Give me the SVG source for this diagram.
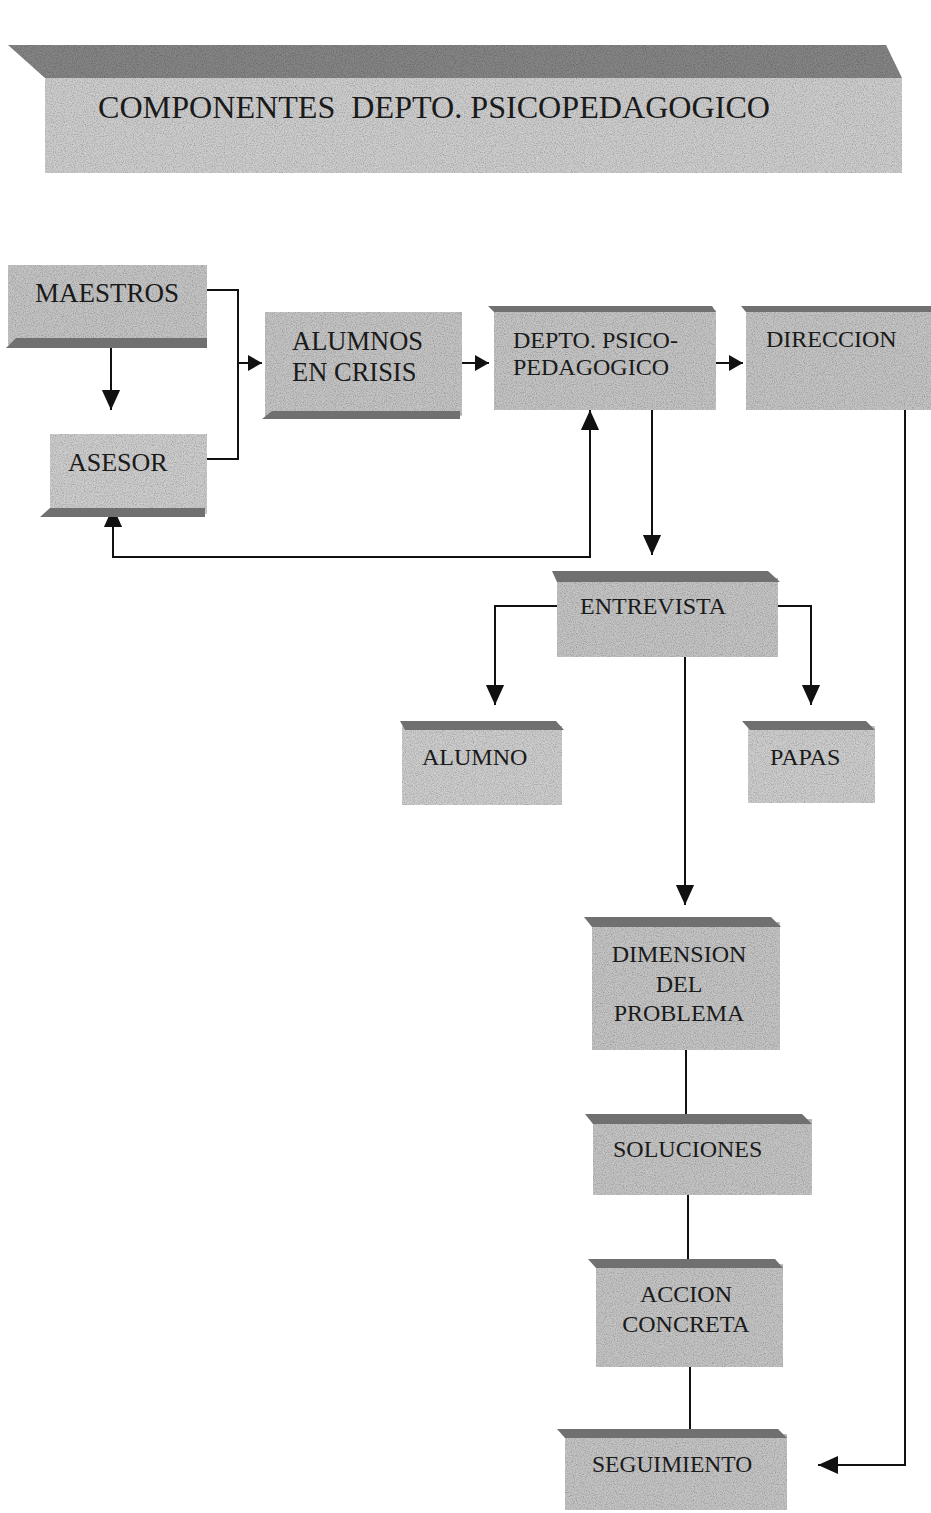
<svg xmlns="http://www.w3.org/2000/svg" width="931" height="1513" viewBox="0 0 931 1513">
<defs>
<filter id="grain" x="0" y="0" width="100%" height="100%">
<feTurbulence type="fractalNoise" baseFrequency="0.9" numOctaves="2" seed="3" result="n"/>
<feColorMatrix in="n" type="matrix" values="0 0 0 0 0  0 0 0 0 0  0 0 0 0 0  0 0 0 -0.9 0.55" result="a"/>
<feComposite in="a" in2="SourceGraphic" operator="in" result="g"/>
<feMerge><feMergeNode in="SourceGraphic"/><feMergeNode in="g"/></feMerge>
</filter>
<marker id="ah" markerWidth="20" markerHeight="22" viewBox="0 0 22 20" refX="22" refY="10" orient="auto" markerUnits="userSpaceOnUse">
<path d="M0,0 L22,10 L0,20 Z" fill="#111"/>
</marker>
<marker id="ahs" markerWidth="14" markerHeight="16" viewBox="0 0 14 16" refX="14" refY="8" orient="auto" markerUnits="userSpaceOnUse">
<path d="M0,0 L14,8 L0,16 Z" fill="#111"/>
</marker>
</defs>
<style>
.face{fill:#c4c4c4;filter:url(#grain)}
.lface{fill:#cdcdcd;filter:url(#grain)}
.bev{fill:#707070}
.t{font-family:"Liberation Serif","Times New Roman",serif;fill:#1a1a1a;font-size:25px}
.c{stroke:#111;stroke-width:2;fill:none}
</style>
<rect width="931" height="1513" fill="#ffffff"/>

<g id="header">
<polygon points="8,45 886,45 902,78 45,78" fill="#858585" filter="url(#grain)"/>
<rect x="45" y="78" width="857" height="95" class="lface"/>
<text x="98" y="118" class="t" style="font-size:31px;white-space:pre" xml:space="preserve" textLength="672" lengthAdjust="spacingAndGlyphs">COMPONENTES  DEPTO. PSICOPEDAGOGICO</text>
</g>

<g id="connectors">
<polyline class="c" points="207,290 238,290 238,459 207,459"/>
<line class="c" x1="238" y1="363" x2="262" y2="363" marker-end="url(#ahs)"/>
<line class="c" x1="111" y1="346" x2="111" y2="410" marker-end="url(#ah)"/>
<line class="c" x1="462" y1="363" x2="489" y2="363" marker-end="url(#ahs)"/>
<line class="c" x1="716" y1="363" x2="743" y2="363" marker-end="url(#ahs)"/>
<polyline class="c" points="113,530 113,557 590,557 590,410" marker-end="url(#ah)"/>
<line class="c" x1="113" y1="530" x2="113" y2="507" marker-end="url(#ah)"/>
<line class="c" x1="652" y1="410" x2="652" y2="555" marker-end="url(#ah)"/>
<polyline class="c" points="905,410 905,1465 818,1465" marker-end="url(#ah)"/>
<polyline class="c" points="557,606 495,606 495,705" marker-end="url(#ah)"/>
<polyline class="c" points="778,606 811,606 811,705" marker-end="url(#ah)"/>
<line class="c" x1="685" y1="657" x2="685" y2="905" marker-end="url(#ah)"/>
<line class="c" x1="686" y1="1050" x2="686" y2="1117"/>
<line class="c" x1="688" y1="1195" x2="688" y2="1262"/>
<line class="c" x1="690" y1="1367" x2="690" y2="1432"/>
</g>

<g id="maestros">
<rect x="8" y="265" width="199" height="80" class="face"/>
<polygon points="16,338 207,338 207,348 6,348" class="bev"/>
<text x="35" y="302" class="t" style="font-size:27px">MAESTROS</text>
</g>

<g id="asesor">
<rect x="50" y="434" width="157" height="80" class="lface"/>
<polygon points="50,508 205,508 205,517 40,517" class="bev"/>
<text x="68" y="471" class="t" style="font-size:26px">ASESOR</text>
</g>

<g id="alumnos">
<rect x="265" y="312" width="197" height="104" class="face"/>
<polygon points="272,411 460,411 460,419 262,419" class="bev"/>
<text x="292" y="350" class="t" style="font-size:26.5px">ALUMNOS</text>
<text x="292" y="381" class="t" style="font-size:26.5px">EN CRISIS</text>
</g>

<g id="depto">
<rect x="494" y="310" width="222" height="100" class="face"/>
<polygon points="488,306 712,306 716,312 494,312" class="bev"/>
<text x="513" y="348" class="t" style="font-size:24px">DEPTO. PSICO-</text>
<text x="513" y="375" class="t" style="font-size:24px">PEDAGOGICO</text>
</g>

<g id="direccion">
<rect x="746" y="310" width="185" height="100" class="face"/>
<polygon points="741,306 931,306 931,312 746,312" class="bev"/>
<text x="766" y="347" class="t" style="font-size:24px">DIRECCION</text>
</g>

<g id="entrevista">
<rect x="557" y="578" width="221" height="79" class="face"/>
<polygon points="552,571 768,571 780,582 557,582" class="bev"/>
<text x="580" y="614" class="t" style="font-size:24px">ENTREVISTA</text>
</g>

<g id="alumno">
<rect x="402" y="726" width="160" height="79" class="lface"/>
<polygon points="400,721 556,721 564,730 405,730" class="bev"/>
<text x="422" y="765" class="t" style="font-size:24px">ALUMNO</text>
</g>

<g id="papas">
<rect x="748" y="726" width="127" height="77" class="lface"/>
<polygon points="742,721 866,721 875,730 750,730" class="bev"/>
<text x="770" y="765" class="t" style="font-size:24px">PAPAS</text>
</g>

<g id="dimension">
<rect x="592" y="922" width="188" height="128" class="face"/>
<polygon points="584,917 771,917 781,927 592,927" class="bev"/>
<text x="679" y="962" class="t" style="font-size:24px" text-anchor="middle">DIMENSION</text>
<text x="679" y="992" class="t" style="font-size:24px" text-anchor="middle">DEL</text>
<text x="679" y="1021" class="t" style="font-size:24px" text-anchor="middle">PROBLEMA</text>
</g>

<g id="soluciones">
<rect x="593" y="1119" width="219" height="76" class="face"/>
<polygon points="585,1114 802,1114 812,1124 593,1124" class="bev"/>
<text x="613" y="1157" class="t" style="font-size:24px">SOLUCIONES</text>
</g>

<g id="accion">
<rect x="596" y="1264" width="187" height="103" class="face"/>
<polygon points="588,1259 775,1259 783,1268 596,1268" class="bev"/>
<text x="686" y="1302" class="t" style="font-size:24px" text-anchor="middle">ACCION</text>
<text x="686" y="1332" class="t" style="font-size:24px" text-anchor="middle">CONCRETA</text>
</g>

<g id="seguimiento">
<rect x="565" y="1434" width="222" height="76" class="face"/>
<polygon points="557,1429 778,1429 787,1438 565,1438" class="bev"/>
<text x="592" y="1472" class="t" style="font-size:23.5px">SEGUIMIENTO</text>
</g>
</svg>
